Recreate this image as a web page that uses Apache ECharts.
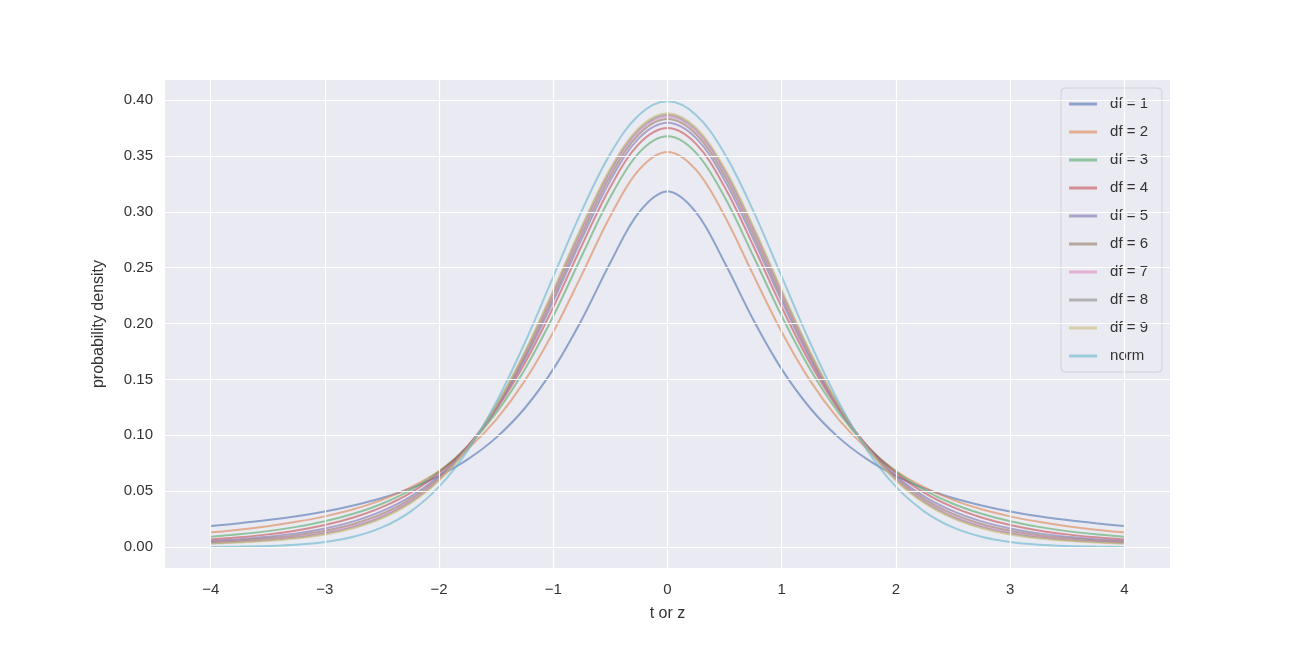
<!DOCTYPE html>
<html><head><meta charset="utf-8">
<script src="https://cdn.jsdelivr.net/npm/echarts@6/dist/echarts.min.js"></script>
<style>html,body{margin:0;padding:0;background:#fff}#c{width:1300px;height:650px}</style>
</head><body><div id="c"></div>
<script>
const xs = [-4,-3.75,-3.5,-3.25,-3,-2.75,-2.5,-2.25,-2,-1.75,-1.5,-1.25,-1,-0.75,-0.5,-0.25,0,0.25,0.5,0.75,1,1.25,1.5,1.75,2,2.25,2.5,2.75,3,3.25,3.5,3.75,4];
const names = ['df = 1','df = 2','df = 3','df = 4','df = 5','df = 6','df = 7','df = 8','df = 9','norm'];
const df1 = [.0187,.0212,.0241,.0276,.0318,.0372,.0439,.0525,.0637,.0784,.0979,.1242,.1592,.2037,.2546,.2996,.3183,.2996,.2546,.2037,.1592,.1242,.0979,.0784,.0637,.0525,.0439,.0372,.0318,.0276,.0241,.0212,.0187];
const df2 = [.0131,.0155,.0186,.0225,.0274,.0338,.0422,.0533,.0680,.0878,.1141,.1487,.1925,.2438,.2963,.3376,.3536,.3376,.2963,.2438,.1925,.1487,.1141,.0878,.0680,.0533,.0422,.0338,.0274,.0225,.0186,.0155,.0131];
const df3 = [.0092,.0114,.0142,.0180,.0230,.0297,.0387,.0509,.0675,.0900,.1200,.1589,.2067,.2607,.3132,.3528,.3676,.3528,.3132,.2607,.2067,.1589,.1200,.0900,.0675,.0509,.0387,.0297,.0230,.0180,.0142,.0114,.0092];
const df4 = [.0067,.0087,.0113,.0148,.0197,.0264,.0357,.0485,.0663,.0905,.1229,.1644,.2147,.2699,.3223,.3608,.3750,.3608,.3223,.2699,.2147,.1644,.1229,.0905,.0663,.0485,.0357,.0264,.0197,.0148,.0113,.0087,.0067];
const df5 = [.0054,.0070,.0092,.0122,.0166,.0229,.0321,.0451,.0638,.0897,.1242,.1680,.2202,.2761,.3283,.3660,.3798,.3660,.3283,.2761,.2202,.1680,.1242,.0897,.0638,.0451,.0321,.0229,.0166,.0122,.0092,.0070,.0054];
const df6 = [.0045,.0059,.0078,.0105,.0146,.0206,.0296,.0429,.0622,.0891,.1251,.1705,.2238,.2803,.3322,.3694,.3830,.3694,.3322,.2803,.2238,.1705,.1251,.0891,.0622,.0429,.0296,.0206,.0146,.0105,.0078,.0059,.0045];
const df7 = [.0039,.0051,.0068,.0093,.0131,.0190,.0279,.0413,.0610,.0887,.1257,.1722,.2264,.2833,.3351,.3719,.3853,.3719,.3351,.2833,.2264,.1722,.1257,.0887,.0610,.0413,.0279,.0190,.0131,.0093,.0068,.0051,.0039];
const df8 = [.0034,.0046,.0061,.0084,.0121,.0178,.0266,.0401,.0602,.0884,.1262,.1735,.2284,.2855,.3372,.3738,.3870,.3738,.3372,.2855,.2284,.1735,.1262,.0884,.0602,.0401,.0266,.0178,.0121,.0084,.0061,.0046,.0034];
const df9 = [.0030,.0041,.0055,.0077,.0112,.0168,.0256,.0392,.0595,.0882,.1266,.1745,.2299,.2872,.3389,.3752,.3883,.3752,.3389,.2872,.2299,.1745,.1266,.0882,.0595,.0392,.0256,.0168,.0112,.0077,.0055,.0041,.0030];
const norm = [.0001,.0004,.0009,.0020,.0044,.0091,.0175,.0317,.0540,.0863,.1295,.1826,.2420,.3011,.3521,.3867,.3989,.3867,.3521,.3011,.2420,.1826,.1295,.0863,.0540,.0317,.0175,.0091,.0044,.0020,.0009,.0004,.0001];
const xTicks = [-4,-3,-2,-1,0,1,2,3,4];
const yTicks = [0,0.05,0.1,0.15,0.2,0.25,0.3,0.35,0.4];
const colors = ['#4c72b0','#dd8452','#55a868','#c44e52','#8172b3','#937860','#da8bc3','#8c8c8c','#ccb974','#64b5cd'];
const all = [df1,df2,df3,df4,df5,df6,df7,df8,df9,norm];
const series = all.map((vals,i)=>({
  name: names[i], type:'line', smooth:0.35, showSymbol:false, symbol:'none',
  data: xs.map((x,j)=>[x,vals[j]]),
  lineStyle:{width:2,color:colors[i],opacity:0.6}, itemStyle:{color:colors[i],opacity:0.6}, z:3
}));
series.push({type:'line',data:[],silent:true,z:1,
  markLine:{silent:true,symbol:'none',label:{show:false},lineStyle:{color:'#fff',width:1.2,type:'solid'},
    data:[...xTicks.map(v=>({xAxis:v})),...yTicks.map(v=>({yAxis:v}))]}});
const fmt = v => (v<0?'\u2212':'')+Math.abs(v);
const chart = echarts.init(document.getElementById('c'));
chart.setOption({
  animation:false,
  grid:{left:165,right:130,top:80,bottom:82,show:true,backgroundColor:'#eaeaf2',borderWidth:0},
  xAxis:{type:'value',min:-4.4,max:4.4,name:'t or z',nameLocation:'middle',nameGap:38,
    nameTextStyle:{fontSize:16,color:'#333'},
    axisLine:{show:false},axisTick:{show:false},splitLine:{show:false},
    axisLabel:{customValues:xTicks,formatter:fmt,fontSize:15,color:'#333',margin:14}},
  yAxis:{type:'value',min:-0.0188,max:0.418,name:'probability density',nameLocation:'middle',nameGap:58,
    nameTextStyle:{fontSize:16,color:'#333'},
    axisLine:{show:false},axisTick:{show:false},splitLine:{show:false},
    axisLabel:{customValues:yTicks,formatter:v=>v.toFixed(2),fontSize:15,color:'#333',margin:12}},
  legend:{data:names,orient:'vertical',right:138,top:88,itemGap:8,itemWidth:28,itemHeight:3,
    icon:'rect',backgroundColor:'rgba(234,234,242,0.85)',borderColor:'#d0d0d8',borderWidth:1,borderRadius:4,
    padding:[6,14,6,8],textStyle:{fontSize:15,color:'#333',lineHeight:20,padding:[0,0,0,8]}},
  series
});
</script></body></html>
